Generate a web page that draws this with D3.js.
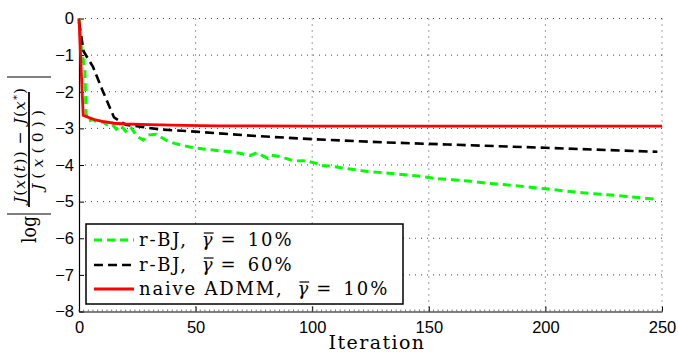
<!DOCTYPE html>
<html><head><meta charset="utf-8">
<script src="https://cdn.jsdelivr.net/npm/d3@7/dist/d3.min.js"></script>
<style>body{margin:0;background:#fff}svg{display:block}</style>
</head><body><svg id="c" width="678" height="352"></svg>
<script>
const xTicks=[0,50,100,150,200,250];
const yTicks=[0,-1,-2,-3,-4,-5,-6,-7,-8];
const seriesNames=["r-BJ,","r-BJ,","naive ADMM,"];
const seriesGamma=["10%","60%","10%"];
const greenIt=[0,1,2.5,3,4,6,8,10,12,14,16,18,20,22,25,27.5,29.5,33,37.5,41,47.5,54,60,65,69,73.5,76.5,79,81,82.5,87,92,97.5,99,102,103.5,108,116,123,130,137,144,150,153,160,167,174,181,188,200,216,230,248];
const greenVal=[0,-0.8,-1.4,-2.6,-2.8,-2.76,-2.85,-2.82,-2.9,-2.88,-3.02,-2.92,-3.08,-2.96,-3.22,-3.32,-3.18,-3.16,-3.33,-3.41,-3.51,-3.57,-3.61,-3.64,-3.68,-3.74,-3.66,-3.76,-3.82,-3.73,-3.78,-3.89,-3.88,-3.91,-3.96,-4.02,-4.03,-4.11,-4.17,-4.21,-4.25,-4.29,-4.34,-4.37,-4.40,-4.44,-4.49,-4.53,-4.57,-4.65,-4.76,-4.83,-4.94];
const blackIt=[0,2,6,10,15,20,27,35,50,76,102,130,158,200,248];
const blackVal=[-0.1,-0.9,-1.32,-1.95,-2.7,-2.9,-2.96,-3.03,-3.09,-3.21,-3.3,-3.38,-3.44,-3.53,-3.64];
const redIt=[0,1,1.8,4,7,10,15,20,30,45,60,100,150,200,250];
const redVal=[0,-1.5,-2.64,-2.7,-2.77,-2.81,-2.86,-2.88,-2.9,-2.92,-2.93,-2.94,-2.94,-2.94,-2.94];

const svg=d3.select("#c");
const L=79,R=662,T=18.5,B=311.5;
const x=d3.scaleLinear().domain([0,250]).range([L,R]);
const y=d3.scaleLinear().domain([-8,0]).range([B,T]);
const SER="DejaVu Serif";

// grid
const g=svg.append("g");
g.selectAll(".hg").data(yTicks.filter(d=>d>-8)).enter().append("line")
 .attr("x1",L).attr("x2",R).attr("y1",d=>y(d)).attr("y2",d=>y(d))
 .attr("stroke","#444").attr("stroke-width",1).attr("stroke-dasharray","1,5");
g.selectAll(".vg").data(xTicks.filter(d=>d>0)).enter().append("line")
 .attr("x1",d=>x(d)).attr("x2",d=>x(d)).attr("y1",T).attr("y2",B)
 .attr("stroke","#444").attr("stroke-width",1).attr("stroke-dasharray","1,5");

// axes
const xAxis=d3.axisBottom(x).tickValues(xTicks).tickSizeInner(-5).tickSizeOuter(0).tickPadding(7).tickFormat(d3.format("d"));
const yAxis=d3.axisLeft(y).tickValues(yTicks).tickSizeInner(-5).tickSizeOuter(0).tickPadding(7).tickFormat(d=>d<0?"\u2212"+(-d):d);
const gx=svg.append("g").attr("transform",`translate(0,${B})`).call(xAxis);
const gy=svg.append("g").attr("transform",`translate(${L},0)`).call(yAxis);
[gx,gy].forEach(a=>{a.selectAll("text").attr("font-family","Liberation Sans, Arial").attr("font-size",16.5).attr("fill","#000");
 a.select(".domain").attr("stroke","#000").attr("stroke-width",1.2);
 a.selectAll(".tick line").attr("stroke","#000");});
gx.selectAll("text").attr("dy","0.85em");
gy.selectAll("text").attr("dx","2");
// minor x ticks
svg.append("g").selectAll("line").data(d3.range(0,251,2)).enter().append("line")
 .attr("x1",d=>x(d)).attr("x2",d=>x(d)).attr("y1",B).attr("y2",B-2)
 .attr("stroke","#555").attr("stroke-width",0.8);

// lines
const line=d3.line().x(d=>x(d[0])).y(d=>y(d[1]));
const zip=(a,b)=>a.map((v,i)=>[v,b[i]]);
svg.append("path").datum(zip(greenIt,greenVal)).attr("d",line).attr("fill","none")
 .attr("stroke","#00ff00").attr("stroke-width",3).attr("stroke-dasharray","8,5");
svg.append("path").datum(zip(blackIt,blackVal)).attr("d",line).attr("fill","none")
 .attr("stroke","#000").attr("stroke-width",2.6).attr("stroke-dasharray","9,5");
svg.append("path").datum(zip(redIt,redVal)).attr("d",line).attr("fill","none")
 .attr("stroke","#ff0000").attr("stroke-width",2.8);

// legend
const lg=svg.append("g");
lg.append("rect").attr("x",86).attr("y",224).attr("width",317).attr("height",80)
 .attr("fill","#fff").attr("stroke","#000").attr("stroke-width",1.5);
const styles=[{c:"#00ff00",d:"8,5",w:3},{c:"#000",d:"9,5",w:2.6},{c:"#ff0000",d:null,w:2.8}];
const rows=[240,265,289];
function piece(parent,xp,yp,txt,opts){
 const t=parent.append("text").attr("x",xp).attr("y",yp).attr("font-family",SER).attr("font-size",opts.fs||18)
  .attr("letter-spacing",opts.ls||0).attr("font-style",opts.it?"italic":"normal").text(txt);
 return t;
}
rows.forEach((ry,i)=>{
 lg.append("line").attr("x1",94).attr("x2",134).attr("y1",ry).attr("y2",ry)
  .attr("stroke",styles[i].c).attr("stroke-width",styles[i].w).attr("stroke-dasharray",styles[i].d);
 const by=ry+6;
 const t1=piece(lg,139,by,seriesNames[i],{ls:1.8});
 let xe=139+t1.node().getComputedTextLength();
 const gx0=xe+14;
 const tg=piece(lg,gx0,by,"\u03B3",{it:true});
 const gw=tg.node().getComputedTextLength();
 lg.append("line").attr("x1",gx0+2).attr("x2",gx0+gw+1).attr("y1",by-13).attr("y2",by-13).attr("stroke","#000").attr("stroke-width",1.2);
 const te=piece(lg,gx0+gw+8,by,"=",{});
 const ex=gx0+gw+8+te.node().getComputedTextLength();
 piece(lg,ex+12,by,seriesGamma[i],{ls:2});
});

// x label
svg.append("text").attr("x",377).attr("y",349).attr("text-anchor","middle")
 .attr("font-family",SER).attr("font-size",19).attr("letter-spacing","1.4").text("Iteration");

// y label
const yl=svg.append("g").attr("transform","translate(29,145) rotate(-90)");
yl.append("text").attr("x",-84.5).attr("y",7).attr("text-anchor","middle").attr("font-family",SER).attr("font-size",21)
 .attr("textLength",27).attr("lengthAdjust","spacingAndGlyphs").text("log");
yl.append("line").attr("x1",-69).attr("x2",-69).attr("y1",-22).attr("y2",22).attr("stroke","#000").attr("stroke-width",1);
yl.append("line").attr("x1",68).attr("x2",68).attr("y1",-22).attr("y2",22).attr("stroke","#000").attr("stroke-width",1);
yl.append("line").attr("x1",-62).attr("x2",53).attr("y1",0).attr("y2",0).attr("stroke","#000").attr("stroke-width",1.8);
const num=yl.append("text").attr("x",-58).attr("y",-4).attr("font-family",SER).attr("font-size",15.5)
 .attr("textLength",115).attr("lengthAdjust","spacing");
num.append("tspan").attr("font-style","italic").text("J");
num.append("tspan").text("(");
num.append("tspan").attr("font-style","italic").text("x");
num.append("tspan").text("(");
num.append("tspan").attr("font-style","italic").text("t");
num.append("tspan").text(")) \u2212 ");
num.append("tspan").attr("font-style","italic").text("J");
num.append("tspan").text("(");
num.append("tspan").attr("font-style","italic").text("x");
num.append("tspan").attr("font-size",10).attr("dy",-5).text("*");
num.append("tspan").attr("dy",5).text(")");
const den=yl.append("text").attr("x",-45).attr("y",14).attr("font-family",SER).attr("font-size",15.5)
 .attr("textLength",80).attr("lengthAdjust","spacing");
den.append("tspan").attr("font-style","italic").text("J");
den.append("tspan").text("(");
den.append("tspan").attr("font-style","italic").text("x");
den.append("tspan").text("(0))");
</script></body></html>
